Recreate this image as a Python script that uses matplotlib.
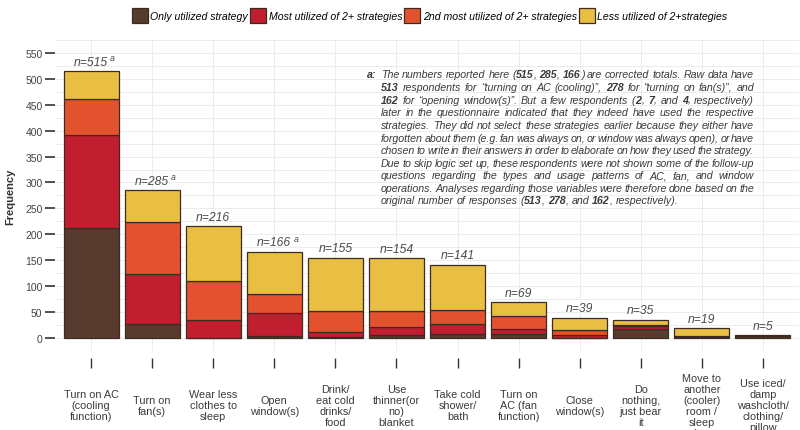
import matplotlib
matplotlib.use("Agg")
import matplotlib.pyplot as plt
from matplotlib import font_manager
from matplotlib.patches import Patch
import numpy as np

# ---------- data ----------
categories = ["Turn on AC\n(cooling\nfunction)", "Turn on\nfan(s)", "Wear less\nclothes to\nsleep",
              "Open\nwindow(s)", "Drink/\neat cold\ndrinks/\nfood", "Use\nthinner(or\nno)\nblanket",
              "Take cold\nshower/\nbath", "Turn on\nAC (fan\nfunction)", "Close\nwindow(s)",
              "Do\nnothing,\njust bear\nit", "Move to\nanother\n(cooler)\nroom /\nsleep\nalone",
              "Use iced/\ndamp\nwashcloth/\nclothing/\npillow"]
only_used   = [212, 28,   0,  4,   2,   6,  8,  8,  1, 17,  2, 3]
most_used   = [179, 95,  35, 44,  10,  15, 19,  9,  4,  7,  1, 0]
second_used = [70, 100,  75, 37,  40,  31, 28, 25, 11,  2,  0, 0]
less_used   = [54,  62, 106, 81, 103, 102, 86, 27, 23,  9, 16, 2]
n_total     = [515, 285, 216, 166, 155, 154, 141, 69, 39, 35, 19, 5]
corrected   = [True, True, False, True] + [False] * 8

series_names = ["Only utilized strategy", "Most utilized of 2+ strategies",
                "2nd most utilized of 2+ strategies", "Less utilized of 2+strategies"]
colors = ["#573b2e", "#c11e2f", "#e2522f", "#e9bf43"]

footnote = [
    "The numbers reported here (*515*, *285*, *166*) are corrected totals. Raw data have",
    "*513* respondents for \u201cturning on AC (cooling)\u201d, *278* for \u201cturning on fan(s)\u201d, and",
    "*162* for \u201copening window(s)\u201d. But a few respondents (*2*, *7*, and *4*, respectively)",
    "later in the questionnaire indicated that they indeed have used the respective",
    "strategies. They did not select these strategies earlier because they either have",
    "forgotten about them (e.g. fan was always on, or window was always open), or have",
    "chosen to write in their answers in order to elaborate on how they used the strategy.",
    "Due to skip logic set up, these respondents were not shown some of the follow-up",
    "questions regarding the types and usage patterns of AC, fan, and window",
    "operations. Analyses regarding those variables were therefore done based on the",
    "original number of responses (*513*, *278*, and *162*, respectively).",
]

# ---------- fonts ----------
names = {f.name for f in font_manager.fontManager.ttflist}
narrow = "Liberation Sans Narrow" if "Liberation Sans Narrow" in names else "Liberation Sans"
plain = "Liberation Sans"
txt_col = "#3a3a3a"

fig = plt.figure(figsize=(8, 4.31), dpi=100)
ax = fig.add_axes([0.06875, 0.1833, 0.93, 0.7218])

x = np.arange(len(categories))
stack = [only_used, most_used, second_used, less_used]
bottom = np.zeros(len(x))
for vals, col, name in zip(stack, colors, series_names):
    ax.bar(x, vals, 0.9, bottom=bottom, color=col, edgecolor="#3b2b22", linewidth=0.9,
           label=name, zorder=3)
    bottom += np.array(vals)

for i in range(len(x)):
    t = ax.annotate(f"n={n_total[i]}", (x[i], bottom[i]), xytext=(0, 2.5),
                    textcoords="offset points", ha="center", va="bottom",
                    fontsize=8.7, style="italic", family=narrow, color="#4a4a4a")
    if corrected[i]:
        ax.annotate("a", xy=(1.0, 0.85), xycoords=t, xytext=(1.5, 0),
                    textcoords="offset points", ha="left", va="center",
                    fontsize=6.3, style="italic", family=narrow, color="#4a4a4a")

# spine position first: it resets the tick objects
for s in ax.spines.values():
    s.set_visible(False)
ax.spines["bottom"].set_position(("outward", 5))

ax.set_xlim(-0.59, 11.59)
ax.set_ylim(-25, 575)
ax.set_yticks(np.arange(0, 551, 50))
ax.set_yticks(np.arange(-25, 576, 25), minor=True)
ax.set_xticks(x)
ax.set_xticklabels(categories)
ax.tick_params(axis="x", length=7, width=1, color="#333333", pad=27)
ax.tick_params(axis="y", which="major", length=7, width=1.2, color="#333333",
               labelsize=7.5, labelcolor="#444444", pad=2)
ax.tick_params(axis="y", which="minor", length=0)
for lab in ax.get_xticklabels():
    lab.set_family(plain)
    lab.set_fontsize(7.8)
    lab.set_color(txt_col)
    lab.set_linespacing(1.12)
    lab.set_verticalalignment("center")
for lab in ax.get_yticklabels():
    lab.set_family(plain)
ax.grid(True, which="both", axis="y", color="#ececec", linewidth=0.7, zorder=0)
ax.grid(True, which="major", axis="x", color="#ececec", linewidth=0.7, zorder=0)
ax.set_axisbelow(True)
ax.set_ylabel("Frequency", family=plain, fontsize=8, fontweight="bold",
              color="#333333", labelpad=7)

handles = [Patch(facecolor=c, edgecolor="#3b2b22", linewidth=0.9) for c in colors]
fig.legend(handles, series_names, loc="center", bbox_to_anchor=(0.537, 0.962),
           ncol=4, frameon=False, handlelength=1.5, handleheight=1.9,
           handletextpad=0.25, columnspacing=0.2,
           prop={"family": narrow, "style": "italic", "size": 7.6})

# ---------- justified footnote ----------
renderer = fig.canvas.get_renderer()
fs = 7.7
W, H = 800, 431

def seg_parts(word):
    parts = word.split("*")
    return [(p, k % 2 == 1) for k, p in enumerate(parts) if p]

def width(s, bold):
    t = fig.text(0, 0, s, fontsize=fs, style="italic", family=narrow,
                 weight="bold" if bold else "normal")
    w = t.get_window_extent(renderer).width
    t.remove()
    return w

space_w = width("a a", False) - 2 * width("a", False)
left_px, right_px = 381, 754
y0, dy = 78.5, 12.6
fig.text(367 / W, 1 - y0 / H, "a:", fontsize=fs, style="italic", weight="bold",
         family=narrow, color=txt_col, va="baseline")
for li, line in enumerate(footnote):
    words = [seg_parts(w) for w in line.split(" ")]
    wwidths = [sum(width(p, b) for p, b in wd) for wd in words]
    if li < len(footnote) - 1:
        gap = (right_px - left_px - sum(wwidths)) / (len(words) - 1)
    else:
        gap = space_w
    xp = left_px
    yp = 1 - (y0 + li * dy) / H
    for wd, ww in zip(words, wwidths):
        xx = xp
        for p, b in wd:
            fig.text(xx / W, yp, p, fontsize=fs, style="italic", family=narrow,
                     weight="bold" if b else "normal", color=txt_col, va="baseline")
            xx += width(p, b)
        xp += ww + gap

fig.savefig("out.png", dpi=100)
